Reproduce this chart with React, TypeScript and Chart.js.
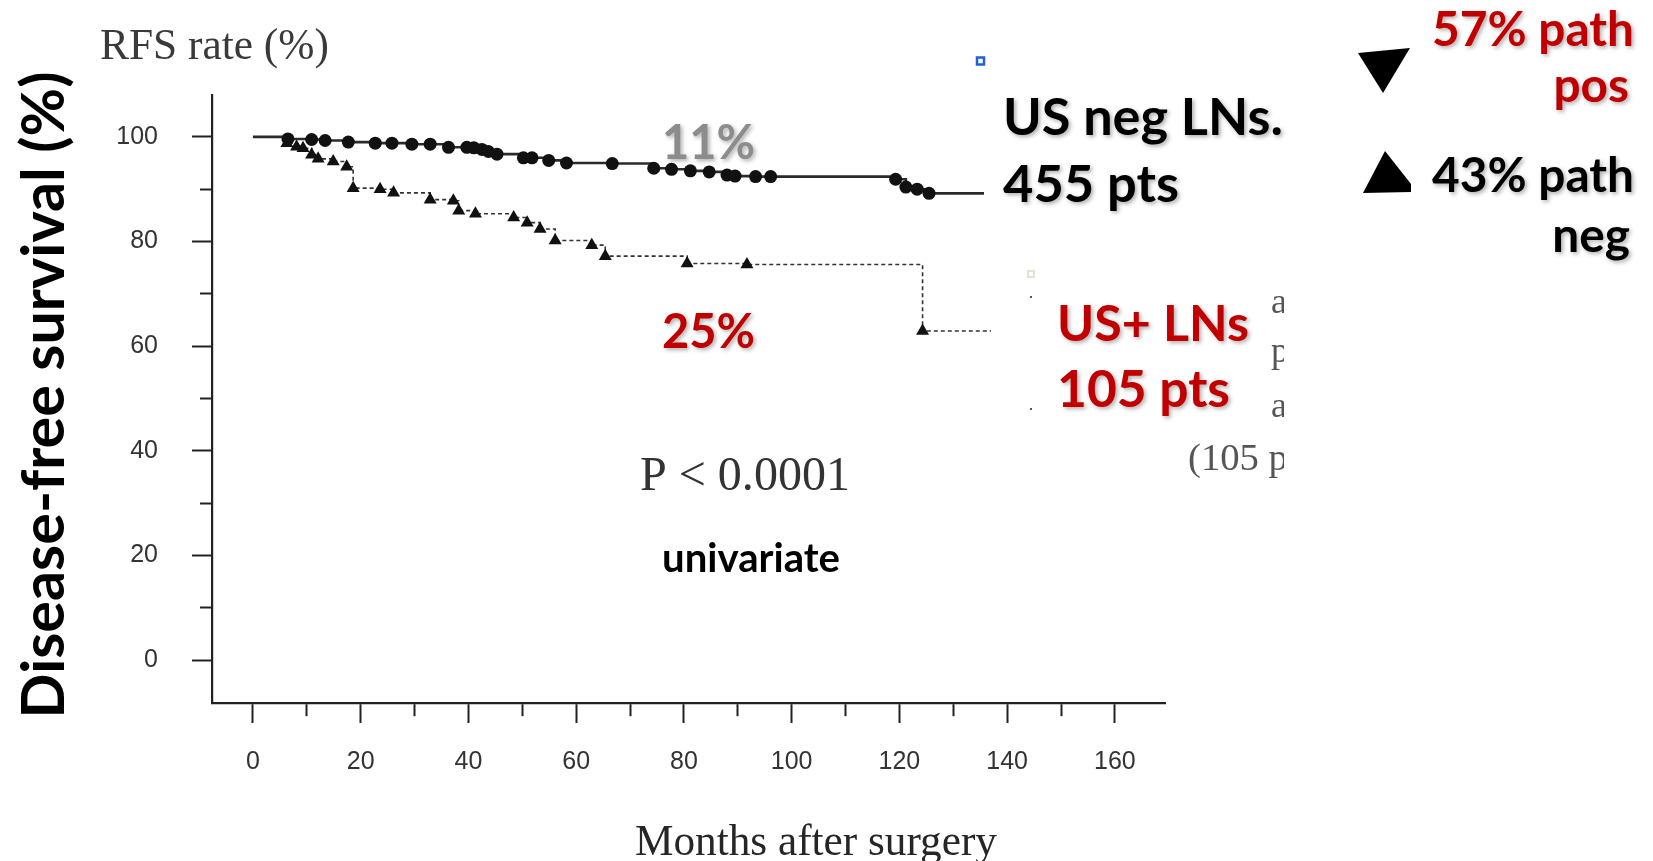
import React, { useEffect, useRef } from 'react';
import { Chart, registerables } from 'chart.js';

Chart.register(...registerables);

// ---- Data ----
const usNegMonths = [0, 6.5, 10.9, 13.4, 17.7, 22.7, 25.8, 29.5, 32.9, 36.3, 39.7, 41.0, 42.5, 43.7, 45.3, 50.2, 51.8, 54.9, 58.2, 66.7, 74.4, 77.7, 81.2, 84.7, 88.0, 89.5, 93.3, 96.1, 119.3, 121.2, 123.3, 125.5, 135.7];
const usNegRFS = [100, 99.6, 99.5, 99.3, 99.0, 98.8, 98.8, 98.6, 98.6, 98.0, 98.0, 97.9, 97.6, 97.2, 96.7, 96.0, 96.0, 95.5, 95.0, 94.9, 94.0, 93.8, 93.5, 93.3, 92.7, 92.5, 92.4, 92.4, 91.9, 90.4, 90.0, 89.2, 89.2];

const usPosMonths = [0, 6.3, 8.1, 9.3, 10.9, 12.1, 14.9, 17.4, 18.6, 23.6, 26.1, 32.9, 37.2, 38.2, 41.3, 48.4, 50.9, 53.3, 56.1, 62.9, 65.4, 80.6, 91.7, 124.3, 137];
const usPosRFS = [100, 98.8, 98.1, 97.8, 96.6, 95.8, 95.3, 94.3, 90.2, 90.0, 89.3, 88.0, 87.8, 85.9, 85.3, 84.6, 83.6, 82.4, 80.2, 79.3, 77.2, 75.8, 75.6, 62.9, 62.9];

const xTickValues = [0, 10, 20, 30, 40, 50, 60, 70, 80, 90, 100, 110, 120, 130, 140, 150, 160];
const yTickValues = [0, 10, 20, 30, 40, 50, 60, 70, 80, 90, 100];
const labelStep = 20;

const xMin = -7.6;
const xMax = 169.3;
const yMin = -8.2;
const yMax = 108;

function fitSize(ctx: CanvasRenderingContext2D, text: string, family: string, weight: string, w: number) {
  ctx.save();
  ctx.font = `${weight} 100px ${family}`;
  const m = ctx.measureText(text).width;
  ctx.restore();
  return (100 * w) / m;
}

function drawText(
  ctx: CanvasRenderingContext2D,
  text: string,
  x: number,
  y: number,
  size: number,
  family: string,
  weight: string,
  color: string,
  align: CanvasTextAlign = 'left',
  shadow = false
) {
  ctx.save();
  ctx.font = `${weight} ${size}px ${family}`;
  ctx.fillStyle = color;
  ctx.textAlign = align;
  ctx.textBaseline = 'alphabetic';
  if (shadow) {
    ctx.shadowColor = 'rgba(0,0,0,0.32)';
    ctx.shadowBlur = 4;
    ctx.shadowOffsetX = 2;
    ctx.shadowOffsetY = 2;
  }
  ctx.fillText(text, x, y);
  ctx.restore();
}

const BOLD = "'Lato', 'Open Sans', sans-serif";
const SERIF = "'Liberation Serif', 'DejaVu Serif', serif";
const RED = '#c00000';

const annotationPlugin = {
  id: 'annotations',
  afterDraw(chart: any) {
    const ctx: CanvasRenderingContext2D = chart.ctx;

    // Scanned serif texts
    drawText(ctx, 'RFS rate (%)', 100, 59, fitSize(ctx, 'RFS rate (%)', SERIF, '400', 229), SERIF, '400', '#3a3a3a');
    drawText(ctx, 'Months after surgery', 635, 855, fitSize(ctx, 'Months after surgery', SERIF, '400', 362), SERIF, '400', '#262626');
    drawText(ctx, 'P < 0.0001', 640, 490, fitSize(ctx, 'P < 0.0001', SERIF, '400', 210), SERIF, '400', '#333');

    // Y title, rotated
    ctx.save();
    ctx.translate(64, 395);
    ctx.rotate(-Math.PI / 2);
    const ys = fitSize(ctx, 'Disease-free survival (%)', BOLD, '700', 647);
    drawText(ctx, 'Disease-free survival (%)', 0, 0, ys, BOLD, '700', '#000', 'center');
    ctx.restore();

    // Overlaid bold labels
    drawText(ctx, 'univariate', 662, 572, fitSize(ctx, 'univariate', BOLD, '700', 178), BOLD, '700', '#000');
    drawText(ctx, '11%', 662, 159, fitSize(ctx, '11%', BOLD, '700', 93), BOLD, '700', '#8c8c8c', 'left', true);
    drawText(ctx, '25%', 662, 348, fitSize(ctx, '25%', BOLD, '700', 93), BOLD, '700', RED, 'left', true);

    drawText(ctx, 'US neg LNs.', 1003, 135, fitSize(ctx, 'US neg LNs.', BOLD, '700', 280), BOLD, '700', '#000', 'left', true);
    drawText(ctx, '455 pts', 1003, 202, fitSize(ctx, '455 pts', BOLD, '700', 176), BOLD, '700', '#000', 'left', true);
    drawText(ctx, 'US+ LNs', 1057, 341, fitSize(ctx, 'US+ LNs', BOLD, '700', 192), BOLD, '700', RED, 'left', true);
    drawText(ctx, '105 pts', 1057, 407, fitSize(ctx, '105 pts', BOLD, '700', 173), BOLD, '700', RED, 'left', true);

    const s57 = fitSize(ctx, '57% path', BOLD, '700', 202);
    drawText(ctx, '57% path', 1634, 46, s57, BOLD, '700', RED, 'right', true);
    drawText(ctx, 'pos', 1629, 102, s57, BOLD, '700', RED, 'right', true);
    const s43 = fitSize(ctx, '43% path', BOLD, '700', 202);
    drawText(ctx, '43% path', 1634, 192, s43, BOLD, '700', '#000', 'right', true);
    drawText(ctx, 'neg', 1630, 252, s43, BOLD, '700', '#000', 'right', true);

    // Legend glyphs
    ctx.save();
    ctx.fillStyle = '#000';
    ctx.beginPath();
    ctx.moveTo(1358, 53);
    ctx.lineTo(1410, 48);
    ctx.lineTo(1383, 93);
    ctx.closePath();
    ctx.fill();
    ctx.beginPath();
    ctx.moveTo(1385, 151);
    ctx.lineTo(1411, 184);
    ctx.lineTo(1411, 192);
    ctx.lineTo(1363, 193);
    ctx.closePath();
    ctx.fill();
    ctx.restore();

    // Clipped remnants of the scanned legend
    ctx.save();
    ctx.beginPath();
    ctx.rect(1100, 280, 184, 220);
    ctx.clip();
    const rs = 36;
    drawText(ctx, 'a', 1271, 313, rs, SERIF, '400', '#555');
    drawText(ctx, 'p', 1271, 362, rs, SERIF, '400', '#555');
    drawText(ctx, 'a', 1271, 417, rs, SERIF, '400', '#555');
    drawText(ctx, '(105 p', 1188, 470, fitSize(ctx, '(105 p', SERIF, '400', 100), SERIF, '400', '#555');
    ctx.restore();

    // Small scan artefacts
    ctx.save();
    ctx.strokeStyle = '#1f5fd8';
    ctx.lineWidth = 2.5;
    ctx.strokeRect(977, 57.5, 7, 7);
    ctx.strokeStyle = '#e6e1d3';
    ctx.lineWidth = 2;
    ctx.strokeRect(1028, 271, 6, 6);
    ctx.fillStyle = '#555';
    ctx.fillRect(1030, 296, 2, 2);
    ctx.fillRect(1030, 408, 2, 2);
    ctx.restore();
  },
};

export default function App() {
  const ref = useRef<HTMLCanvasElement>(null);

  useEffect(() => {
    const canvas = ref.current;
    if (!canvas) return;

    const negData = usNegMonths.map((m, i) => ({ x: m, y: usNegRFS[i] }));
    const posData = usPosMonths.map((m, i) => ({ x: m, y: usPosRFS[i] }));

    const chart = new Chart(canvas, {
      type: 'line',
      data: {
        datasets: [
          {
            label: 'US neg LNs',
            data: negData,
            stepped: 'before',
            borderColor: '#2b2b2b',
            borderWidth: 2.6,
            fill: false,
            pointStyle: 'circle',
            pointRadius: (c: any) => (c.dataIndex === 0 || c.dataIndex === negData.length - 1 ? 0 : 6.5),
            pointBackgroundColor: '#111',
            pointBorderColor: '#111',
            pointBorderWidth: 0,
          },
          {
            label: 'US+ LNs',
            data: posData,
            stepped: 'before',
            borderColor: '#333',
            borderWidth: 1.6,
            borderDash: [4, 3],
            fill: false,
            pointStyle: 'triangle',
            pointRadius: (c: any) => (c.dataIndex === 0 || c.dataIndex === posData.length - 1 ? 0 : 7.5),
            pointBackgroundColor: '#111',
            pointBorderColor: '#111',
            pointBorderWidth: 0,
          },
        ],
      },
      options: {
        animation: false,
        responsive: false,
        devicePixelRatio: 1,
        layout: { padding: { top: 95, right: 488, left: 0, bottom: 0 } },
        plugins: {
          legend: { display: false },
          tooltip: { enabled: false },
        },
        scales: {
          x: {
            type: 'linear',
            min: xMin,
            max: xMax,
            afterFit: (s: any) => {
              s.height = 158;
            },
            afterBuildTicks: (s: any) => {
              s.ticks = xTickValues.map((v) => ({ value: v }));
            },
            border: { display: true, color: '#222', width: 2.2 },
            grid: {
              drawOnChartArea: false,
              drawTicks: true,
              tickLength: 20,
              tickColor: '#222',
              tickWidth: 2,
              tickBorderDash: (c: any) => (c.tick && c.tick.value % labelStep !== 0 ? [12, 100] : []),
            },
            ticks: {
              autoSkip: false,
              maxRotation: 0,
              padding: 24,
              color: '#333',
              font: { family: "'Liberation Sans', Arial, sans-serif", size: 25 },
              callback: (v: any) => (Number(v) % labelStep === 0 ? String(v) : ''),
            },
          },
          y: {
            type: 'linear',
            min: yMin,
            max: yMax,
            afterFit: (s: any) => {
              s.width = 212;
            },
            afterBuildTicks: (s: any) => {
              s.ticks = yTickValues.map((v) => ({ value: v }));
            },
            border: { display: true, color: '#222', width: 2.2 },
            grid: {
              drawOnChartArea: false,
              drawTicks: true,
              tickLength: 20,
              tickColor: '#222',
              tickWidth: 2,
              tickBorderDash: (c: any) => (c.tick && c.tick.value % labelStep !== 0 ? [0, 8, 12, 100] : []),
            },
            ticks: {
              autoSkip: false,
              padding: 34,
              color: '#333',
              font: { family: "'Liberation Sans', Arial, sans-serif", size: 25 },
              callback: (v: any) => (Number(v) % labelStep === 0 ? String(v) : ''),
            },
          },
        },
      },
      plugins: [annotationPlugin],
    } as any);

    return () => chart.destroy();
  }, []);

  return (
    <canvas
      ref={ref}
      width={1653}
      height={861}
      style={{ position: 'absolute', left: 0, top: 0, width: 1653, height: 861, background: '#fff' }}
    />
  );
}
